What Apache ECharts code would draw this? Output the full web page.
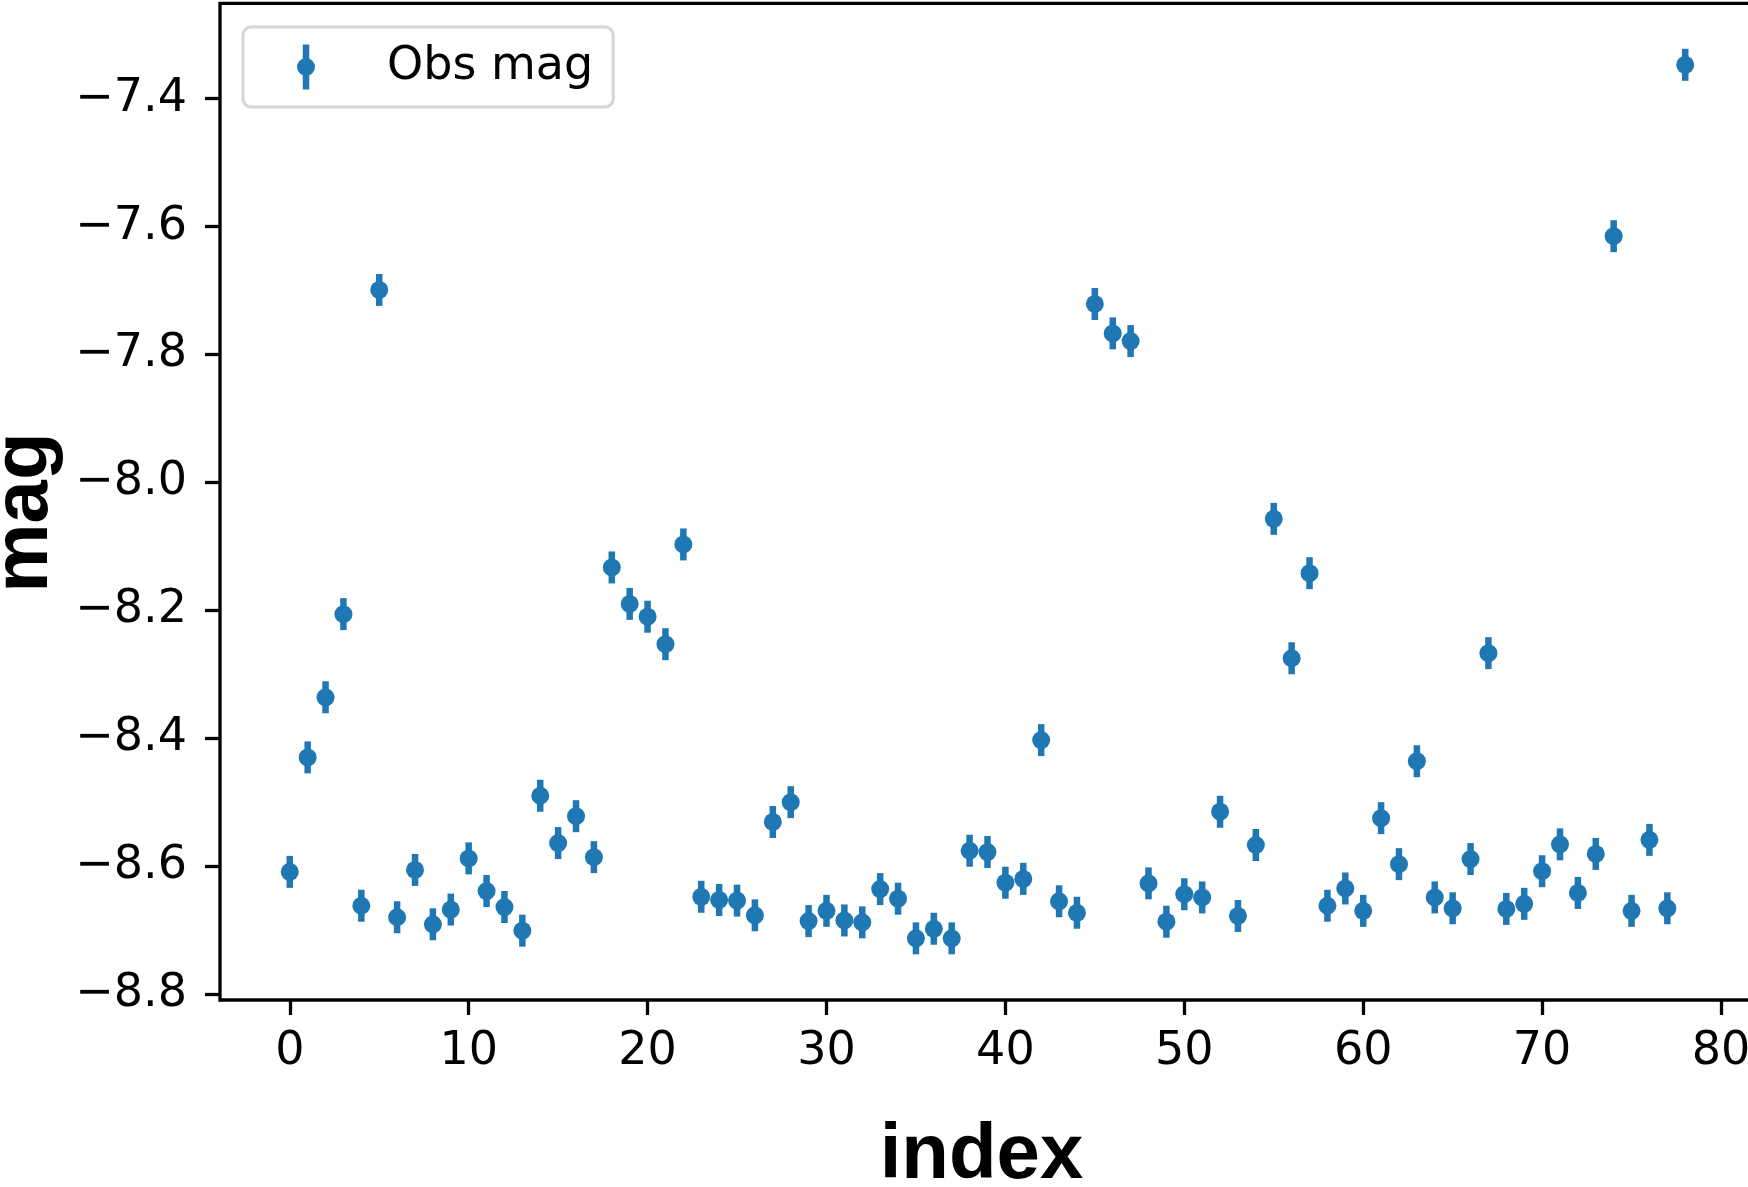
<!DOCTYPE html>
<html>
<head>
<meta charset="utf-8">
<script src="https://cdn.jsdelivr.net/npm/echarts@6/dist/echarts.min.js"></script>
<style>
html,body{margin:0;padding:0;background:#fff;}
#chart{width:1748px;height:1187px;}
</style>
</head>
<body>
<div id="chart"></div>
<script>
// ---- data ----
const indices = [0,1,2,3,4,5,6,7,8,9,10,11,12,13,14,15,16,17,18,19,20,21,22,23,24,25,26,27,28,29,30,31,32,33,34,35,36,37,38,39,40,41,42,43,44,45,46,47,48,49,50,51,52,53,54,55,56,57,58,59,60,61,62,63,64,65,66,67,68,69,70,71,72,73,74,75,76,77,78];
const mags = [-8.609,-8.430,-8.336,-8.206,-8.662,-7.699,-8.680,-8.606,-8.691,-8.668,
  -8.588,-8.639,-8.664,-8.701,-8.490,-8.564,-8.522,-8.586,-8.133,-8.190,
  -8.210,-8.253,-8.097,-8.648,-8.653,-8.654,-8.677,-8.531,-8.500,-8.686,
  -8.670,-8.685,-8.688,-8.636,-8.651,-8.713,-8.698,-8.713,-8.576,-8.578,
  -8.626,-8.620,-8.403,-8.655,-8.673,-7.721,-7.767,-7.779,-8.627,-8.687,
  -8.644,-8.649,-8.515,-8.678,-8.567,-8.057,-8.275,-8.142,-8.662,-8.635,
  -8.670,-8.525,-8.597,-8.436,-8.649,-8.666,-8.589,-8.267,-8.667,-8.659,
  -8.608,-8.566,-8.642,-8.581,-7.615,-8.670,-8.559,-8.666,-7.347];
const magErrs = [0.025,0.025,0.025,0.025,0.025,0.025,0.025,0.025,0.025,0.025,
  0.025,0.025,0.025,0.025,0.025,0.025,0.025,0.025,0.025,0.025,
  0.025,0.025,0.025,0.025,0.025,0.025,0.025,0.025,0.025,0.025,
  0.025,0.025,0.025,0.025,0.025,0.025,0.025,0.025,0.025,0.025,
  0.025,0.025,0.025,0.025,0.025,0.025,0.025,0.025,0.025,0.025,
  0.025,0.025,0.025,0.025,0.025,0.025,0.025,0.025,0.025,0.025,
  0.025,0.025,0.025,0.025,0.025,0.025,0.025,0.025,0.025,0.025,
  0.025,0.025,0.025,0.025,0.025,0.025,0.025,0.025,0.025];
const xTicks = [0,10,20,30,40,50,60,70,80];
const yTicks = [-8.8,-8.6,-8.4,-8.2,-8.0,-7.8,-7.6,-7.4];
const seriesName = 'Obs mag';
const xLabel = 'index';
const yLabel = 'mag';

// ---- build ----
const C = '#1f77b4';
const pts = indices.map((x,i)=>[x, mags[i], magErrs[i]]);
const chart = echarts.init(document.getElementById('chart'), null, {renderer:'canvas'});
const tickFont = {fontFamily:'DejaVu Sans', fontSize:46, color:'#000'};
chart.setOption({
  animation:false,
  backgroundColor:'#fff',
  grid:{left:220, top:3.3, width:1535, height:996.7, show:true, borderColor:'#000', borderWidth:3.3,
        backgroundColor:'transparent', containLabel:false, outerBoundsMode:'none'},
  legend:{
    left:243, top:27, orient:'vertical',
    padding:[17,20,17,54],
    itemWidth:18, itemHeight:45,
    backgroundColor:'#fff', borderColor:'#d6d6d6', borderWidth:3, borderRadius:8,
    data:[{name:seriesName, icon:'path://M-3.25,-22.5 L3.25,-22.5 L3.25,22.5 L-3.25,22.5 Z M-9,0 A9,9 0 1,1 9,0 A9,9 0 1,1 -9,0 Z'}],
    textStyle:{fontFamily:'DejaVu Sans', fontSize:46, color:'#000', padding:[0,0,0,67]},
    selectedMode:false
  },
  xAxis:{
    type:'value', min:-3.9, max:81.9,
    name:xLabel, nameLocation:'middle', nameGap:117,
    nameTextStyle:{fontFamily:'Liberation Sans', fontWeight:'bold', fontSize:78, color:'#000', padding:[0,12,0,0]},
    splitLine:{show:false},
    axisLine:{show:false, onZero:false},
    axisTick:{show:true, length:15, inside:false, customValues:xTicks, lineStyle:{color:'#000', width:3.3}},
    axisLabel:{customValues:xTicks, margin:29, formatter:v=>String(v), ...tickFont}
  },
  yAxis:{
    type:'value', min:-8.8094, max:-7.2508,
    name:yLabel, nameLocation:'middle', nameGap:147,
    nameTextStyle:{fontFamily:'Liberation Sans', fontWeight:'bold', fontSize:78, color:'#000', padding:[0,22,0,0]},
    splitLine:{show:false},
    axisLine:{show:false, onZero:false},
    axisTick:{show:true, length:15, inside:false, customValues:yTicks, lineStyle:{color:'#000', width:3.3}},
    axisLabel:{customValues:yTicks, margin:33, padding:[5,0,0,0], formatter:v=>v.toFixed(1).replace('-','\u2212'), ...tickFont}
  },
  series:[
    {
      type:'custom', name:'err', silent:true,
      data:pts,
      encode:{x:0, y:1},
      renderItem:(params, api)=>{
        const x = api.value(0), y = api.value(1), e = api.value(2);
        const a = api.coord([x, y + e]);
        const b = api.coord([x, y - e]);
        return {type:'rect', shape:{x:a[0]-3.25, y:a[1], width:6.5, height:b[1]-a[1]}, style:{fill:C}};
      },
      z:2
    },
    {
      type:'scatter', name:seriesName,
      data:pts.map(p=>[p[0],p[1]]),
      symbol:'circle', symbolSize:18,
      itemStyle:{color:C, opacity:1},
      z:3
    }
  ]
});
</script>
</body>
</html>
